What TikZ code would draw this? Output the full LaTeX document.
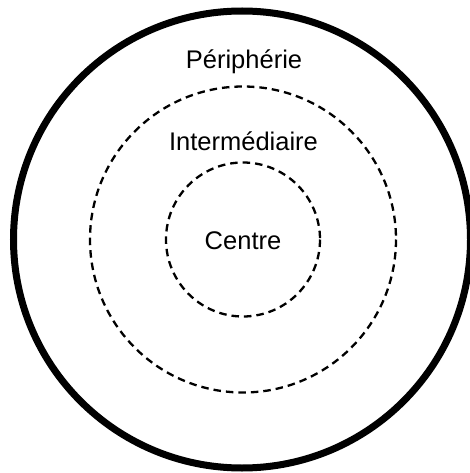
\documentclass[tikz,border=0pt]{standalone}
\usepackage{fontspec}
\setmainfont{Liberation Sans}
\begin{document}
\begin{tikzpicture}[x=1pt,y=-1pt,
  ring/.style={draw=black, line width=2.3pt, dash pattern=on 7.5pt off 5pt},
  outerring/.style={draw=black, line width=7pt},
  lbl/.style={font=\fontsize{25.5}{30}\selectfont, anchor=base, inner sep=0pt}]
  \useasboundingbox (0,0) rectangle (469,473);
  \coordinate (c) at (243,239.5);
  \draw[outerring] (242,239.5) circle[radius=228.5];
  \draw[ring] (c) circle[radius=153];
  \draw[ring] (c) circle[radius=77];
  \node[lbl] (peri) at (244,69) {Périphérie};
  \node[lbl] (inter) at (243.5,150) {Intermédiaire};
  \node[lbl] (centre) at (243,249) {Centre};
\end{tikzpicture}
\end{document}
